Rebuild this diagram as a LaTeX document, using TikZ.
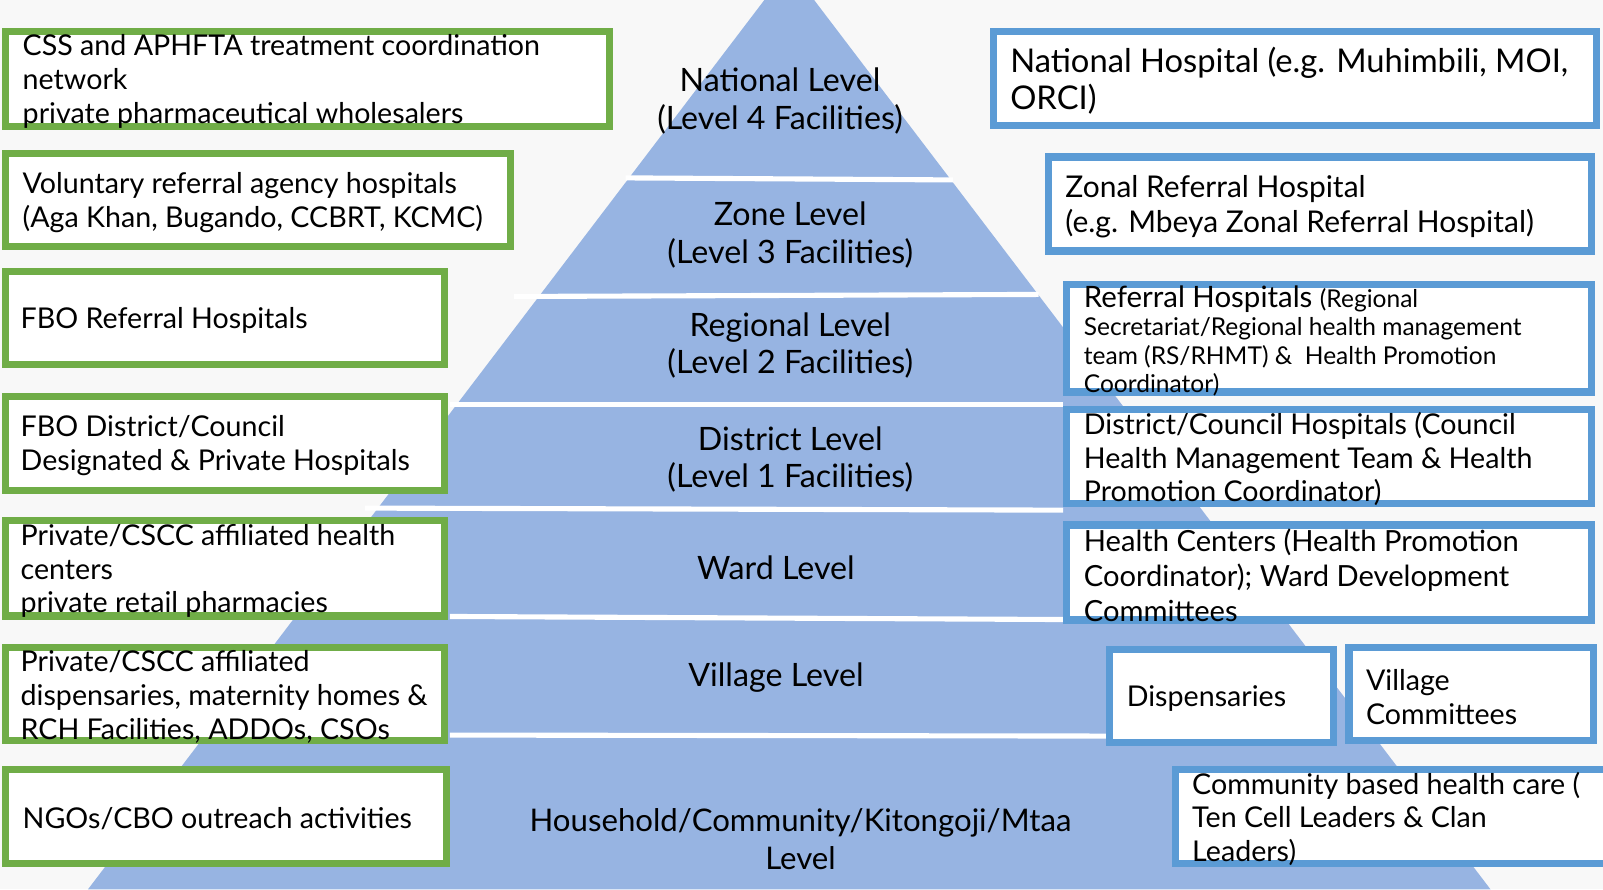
\documentclass[tikz,border=0pt]{standalone}
\usepackage{fontspec}
\setmainfont{Lato}
\usetikzlibrary{positioning}
\definecolor{pyramid}{RGB}{151,180,226}
\definecolor{boxgreen}{RGB}{112,173,71}
\definecolor{boxblue}{RGB}{91,155,213}
\definecolor{paper}{RGB}{248,248,248}

\tikzset{
    gbox/.style={draw=boxgreen, line width=7pt, fill=white, anchor=north west, inner sep=0pt, outer sep=0pt},
    bbox/.style={draw=boxblue, line width=7pt, fill=white, anchor=north west, inner sep=0pt, outer sep=0pt},
    info/.style={anchor=west, align=left, inner sep=0pt, yshift=-2.5pt, font=\fontsize{28}{33}\selectfont},
    level/.style={align=center, inner sep=0pt, font=\fontsize{31.5}{37}\selectfont},
    gap/.style={draw=white, line width=5pt},
}

\begin{document}
\begin{tikzpicture}[x=1pt, y=-1pt]
    \useasboundingbox[fill=paper] (0,0) rectangle (1568,870);
    \clip (0,0) rectangle (1568,870);
    % pyramid and the gaps between its levels
    \fill[pyramid] (86,870) -- (772,-32) -- (1458,870) -- cycle;
    \path[gap] (612,174) -- (932,176);
    \path[gap] (503,290) -- (1016,288);
    \path[gap] (440,396) -- (1040,396);
    \path[gap] (357,497) -- (1040,499);
    \path[gap] (440,603) -- (1040,606);
    \path[gap] (440,719) -- (1082,720);

    % levels
    \node[level](l4)  at (763,99) {National Level\\(Level 4 Facilities)};
    \node[level](l3)  at (773,230) {Zone Level\\(Level 3 Facilities)};
    \node[level](l2)  at (773,338) {Regional Level\\(Level 2 Facilities)};
    \node[level](l1)  at (773,449.5) {District Level\\(Level 1 Facilities)};
    \node[level](wl)  at (759,555) {Ward Level};
    \node[level](vl)  at (759,663) {Village Level};
    \node[level, font=\fontsize{30.5}{37}\selectfont](hl)  at (783,820.5) {Household/Community/Kitongoji/Mtaa\\Level};

    % private side
    \node[gbox, minimum width=591, minimum height=93](g1) at (5.5,30.5) {};
    \node[gbox, minimum width=494, minimum height=91](g2) at (5.5,150.5) {};
    \node[gbox, minimum width=429, minimum height=91](g3) at (5.5,265.5) {};
    \node[gbox, minimum width=429, minimum height=92](g4) at (5.5,387.5) {};
    \node[gbox, minimum width=429, minimum height=93](g5) at (5.5,509.5) {};
    \node[gbox, minimum width=429, minimum height=91](g6) at (5.5,633.5) {};
    \node[gbox, minimum width=431, minimum height=92](g7) at (5.5,752.5) {};
    \node[info](g1t) at ([xshift=16.5]g1.west) {CSS and APHFTA treatment coordination\\network\\private pharmaceutical wholesalers};
    \node[info](g2t) at ([xshift=16.5]g2.west) {Voluntary referral agency hospitals\\(Aga Khan, Bugando, CCBRT, KCMC)};
    \node[info](g3t) at ([xshift=14.5]g3.west) {FBO Referral Hospitals};
    \node[info](g4t) at ([xshift=14.5]g4.west) {FBO District/Council\\Designated \& Private Hospitals};
    \node[info](g5t) at ([xshift=14.5]g5.west) {Private/CSCC affiliated health\\centers\\private retail pharmacies};
    \node[info](g6t) at ([xshift=14.5]g6.west) {Private/CSCC affiliated\\dispensaries, maternity homes \&\\RCH Facilities, ADDOs, CSOs};
    \node[info](g7t) at ([xshift=16.5]g7.west) {NGOs/CBO outreach activities};

    % public side
    \node[bbox, minimum width=590, minimum height=92](b1) at (971.5,30.5) {};
    \node[bbox, minimum width=531, minimum height=92](b2) at (1025.5,153.5) {};
    \node[bbox, minimum width=513, minimum height=105](b3) at (1043.5,278.5) {};
    \node[bbox, minimum width=513, minimum height=92](b4) at (1043.5,400.5) {};
    \node[bbox, minimum width=513, minimum height=93](b5) at (1043.5,513.5) {};
    \node[bbox, minimum width=219, minimum height=91](b6) at (1085.5,635.5) {};
    \node[bbox, minimum width=239, minimum height=91](b7) at (1319.5,633.5) {};
    \node[bbox, minimum width=430, minimum height=92](b8) at (1149.5,752.5) {};
    \node[info, font=\fontsize{32}{36}\selectfont](b1t) at ([xshift=16.5]b1.west) {National Hospital (e.g. Muhimbili, MOI,\\ORCI)};
    \node[info, font=\fontsize{29.3}{34}\selectfont](b2t) at ([xshift=16.5]b2.west) {Zonal Referral Hospital\\(e.g. Mbeya Zonal Referral Hospital)};
    \node[info, font=\fontsize{24}{28}\selectfont](b3t) at ([xshift=16.5]b3.west) {{\fontsize{28.8}{28}\selectfont Referral Hospitals }(Regional\\Secretariat/Regional health management\\team (RS/RHMT) \&\ \ Health Promotion\\Coordinator)};
    \node[info](b4t) at ([xshift=16.5]b4.west) {District/Council Hospitals (Council\\Health Management Team \& Health\\Promotion Coordinator)};
    \node[info, font=\fontsize{28.5}{34}\selectfont](b5t) at ([xshift=16.5]b5.west) {Health Centers (Health Promotion\\Coordinator); Ward Development\\Committees};
    \node[info](b6t) at ([xshift=16.5]b6.west) {Dispensaries};
    \node[info](b7t) at ([xshift=16.5]b7.west) {Village\\Committees};
    \node[info](b8t) at ([xshift=16.5]b8.west) {Community based health care (\\Ten Cell Leaders \& Clan\\Leaders)};
\end{tikzpicture}
\end{document}
